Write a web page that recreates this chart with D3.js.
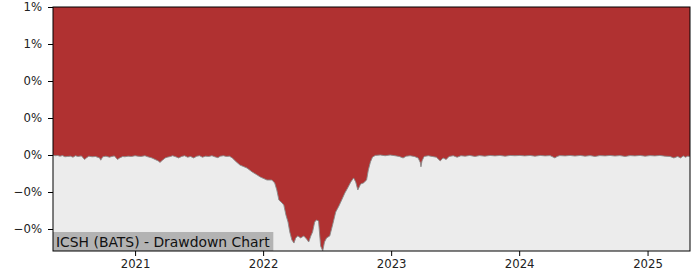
<!DOCTYPE html>
<html>
<head>
<meta charset="utf-8">
<script src="https://cdn.jsdelivr.net/npm/d3@7"></script>
<style>
  html, body { margin: 0; padding: 0; background: #ffffff; }
  svg { display: block; }
  text { font-family: "DejaVu Sans", sans-serif; }
</style>
</head>
<body>
<svg id="chart" width="700" height="280"></svg>
<script>
// ---- data (drawdown, in percent) ----
const dates = [
  "2020-05-12","2020-05-18","2020-05-25","2020-06-01","2020-06-08","2020-06-15","2020-06-22","2020-07-01","2020-07-08","2020-07-15","2020-07-22",
  "2020-08-01","2020-08-10","2020-08-15","2020-08-22","2020-09-01","2020-09-10","2020-09-22","2020-09-25","2020-10-01","2020-10-10","2020-10-20",
  "2020-10-27","2020-11-03","2020-11-12","2020-11-18","2020-11-27","2020-12-03","2020-12-12","2020-12-22",
  "2021-01-01","2021-01-09","2021-01-18","2021-01-29","2021-02-06","2021-02-18","2021-02-27","2021-03-08","2021-03-13","2021-03-20","2021-03-28",
  "2021-04-03","2021-04-12","2021-04-18","2021-04-27","2021-05-05","2021-05-14","2021-05-22","2021-05-31","2021-06-08","2021-06-17","2021-06-26",
  "2021-07-04","2021-07-12","2021-07-21","2021-07-30","2021-08-08","2021-08-16","2021-08-25","2021-09-01","2021-09-10","2021-09-18","2021-09-27",
  "2021-10-05","2021-10-16","2021-10-27","2021-11-16","2021-12-01","2021-12-15","2021-12-24",
  "2022-01-12","2022-01-26","2022-02-03","2022-02-09","2022-02-15","2022-02-24","2022-03-01","2022-03-07","2022-03-13","2022-03-18","2022-03-24","2022-03-30",
  "2022-04-04","2022-04-10","2022-04-18","2022-04-27","2022-05-05","2022-05-11","2022-05-17","2022-05-22","2022-05-28","2022-06-02","2022-06-08","2022-06-14",
  "2022-06-20","2022-06-25","2022-07-01","2022-07-10","2022-07-18","2022-07-27","2022-08-05","2022-08-13","2022-08-22","2022-08-30","2022-09-08","2022-09-16",
  "2022-09-22","2022-09-28","2022-10-06","2022-10-14","2022-10-23","2022-10-28","2022-11-03","2022-11-09","2022-11-17","2022-12-01","2022-12-15","2022-12-29",
  "2023-01-12","2023-01-24","2023-02-04","2023-02-13","2023-02-24","2023-03-08","2023-03-19","2023-03-25","2023-03-27","2023-03-30","2023-04-05","2023-04-17",
  "2023-04-28","2023-05-10","2023-05-21","2023-05-29","2023-06-07","2023-06-15","2023-06-27","2023-07-08","2023-07-19","2023-07-31","2023-08-13","2023-08-28",
  "2023-09-10","2023-09-25","2023-10-10","2023-10-24","2023-11-07","2023-11-22","2023-12-06","2023-12-20",
  "2024-01-03","2024-01-17","2024-02-01","2024-02-15","2024-03-01","2024-03-15","2024-03-29","2024-04-12","2024-04-18","2024-04-26","2024-05-11","2024-05-25",
  "2024-06-08","2024-06-23","2024-07-07","2024-07-21","2024-08-04","2024-08-18","2024-09-02","2024-09-16","2024-09-30","2024-10-14","2024-10-29","2024-11-12",
  "2024-11-26","2024-12-11","2024-12-25",
  "2025-01-08","2025-01-22","2025-02-05","2025-02-20","2025-03-06","2025-03-17","2025-03-28","2025-04-05","2025-04-13","2025-04-19","2025-04-25","2025-05-02"
];
const drawdown = [
  0,-0.005,-0.003,-0.008,-0.004,-0.012,-0.01,-0.008,-0.015,-0.005,-0.01,
  -0.006,-0.03,-0.02,-0.008,-0.012,-0.01,-0.02,-0.035,-0.012,-0.008,-0.015,
  -0.01,-0.006,-0.03,-0.02,-0.01,-0.012,-0.008,-0.01,
  -0.005,-0.008,-0.01,-0.005,-0.012,-0.02,-0.03,-0.04,-0.05,-0.035,-0.02,
  -0.015,-0.01,-0.005,-0.012,-0.02,-0.01,-0.005,-0.015,-0.01,-0.02,-0.008,
  -0.005,-0.015,-0.008,-0.01,-0.005,-0.012,-0.018,-0.008,-0.005,-0.01,-0.008,
  -0.02,-0.045,-0.068,-0.088,-0.115,-0.135,-0.149,
  -0.169,-0.169,-0.189,-0.236,-0.304,-0.324,-0.338,-0.405,-0.453,-0.52,-0.574,-0.595,
  -0.56,-0.547,-0.56,-0.547,-0.568,-0.588,-0.547,-0.52,-0.453,-0.439,-0.446,-0.615,
  -0.648,-0.588,-0.56,-0.547,-0.473,-0.385,-0.345,-0.304,-0.257,-0.223,-0.182,-0.155,
  -0.182,-0.236,-0.196,-0.189,-0.169,-0.101,-0.047,-0.014,-0.003,0,-0.005,0,
  -0.005,-0.01,-0.02,-0.008,-0.005,-0.01,-0.02,-0.05,-0.08,-0.04,-0.01,-0.005,
  -0.01,-0.015,-0.04,-0.02,-0.03,-0.01,-0.005,-0.015,-0.005,-0.008,-0.003,-0.01,
  -0.004,-0.008,-0.003,-0.006,-0.003,-0.008,-0.003,-0.005,
  -0.003,-0.006,-0.003,-0.008,-0.003,-0.006,-0.004,-0.02,-0.01,-0.004,-0.006,-0.003,
  -0.007,-0.003,-0.008,-0.004,-0.01,-0.004,-0.006,-0.003,-0.007,-0.004,-0.01,-0.004,
  -0.006,-0.003,-0.008,
  -0.004,-0.006,-0.003,-0.008,-0.01,-0.02,-0.01,-0.02,-0.006,-0.015,-0.008,-0.01
];
const yTickValues = [-0.5, -0.25, 0, 0.25, 0.5, 0.75, 1.0];
const yTickLabels = ["\u22120%", "\u22120%", "0%", "0%", "0%", "1%", "1%"];
const xTickDates = ["2021-01-01","2022-01-01","2023-01-01","2024-01-01","2025-01-01"];
const xTickLabels = ["2021","2022","2023","2024","2025"];
const chartTitle = "ICSH (BATS) - Drawdown Chart";

// ---- layout ----
const W = 700, H = 280;
const margin = { top: 7, right: 10, bottom: 29, left: 53 };
const pw = W - margin.left - margin.right;
const ph = H - margin.top - margin.bottom;

const parse = d3.timeParse("%Y-%m-%d");
const data = dates.map((d, i) => ({ date: parse(d), v: drawdown[i] }));

const x = d3.scaleTime()
  .domain([parse("2020-05-12"), parse("2025-05-02")])
  .range([0, pw]);
const y = d3.scaleLinear()
  .domain([-0.6486, 1.0])
  .range([ph, 0]);

const svg = d3.select("#chart");
const g = svg.append("g").attr("transform", `translate(${margin.left},${margin.top})`);

g.append("rect").attr("width", pw).attr("height", ph).attr("fill", "#ececec");

const area = d3.area()
  .x(d => x(d.date))
  .y0(y(1.0))
  .y1(d => y(d.v));
g.append("path").datum(data).attr("d", area).attr("fill", "#b03131");

const line = d3.line().x(d => x(d.date)).y(d => y(d.v));
g.append("path").datum(data).attr("d", line)
  .attr("fill", "none").attr("stroke", "#8a8a8a").attr("stroke-width", 1).attr("opacity", 0.9);

// title box
const tg = g.append("g");
const tt = tg.append("text").attr("x", 3).attr("y", ph - 4.5)
  .attr("font-size", "13.9px").attr("fill", "#111").text(chartTitle);
const bb = tt.node().getBBox();
tg.insert("rect", "text").attr("x", 0).attr("y", ph - 19).attr("width", bb.width + 6).attr("height", 19)
  .attr("fill", "#b3b3b3");

// axes
const yAxis = d3.axisLeft(y).tickValues(yTickValues)
  .tickFormat((d, i) => yTickLabels[i]).tickSize(5).tickPadding(6);
const ya = g.append("g").call(yAxis);
const xAxis = d3.axisBottom(x).tickValues(xTickDates.map(parse))
  .tickFormat((d, i) => xTickLabels[i]).tickSize(5).tickPadding(4);
const xa = g.append("g").attr("transform", `translate(0,${ph})`).call(xAxis);
[ya, xa].forEach(a => {
  a.select(".domain").remove();
  a.selectAll("text").attr("font-family", "DejaVu Sans, sans-serif").attr("font-size", "11.7px").attr("fill", "#222");
  a.selectAll("line").attr("stroke", "#000");
});

g.append("rect").attr("width", pw).attr("height", ph)
  .attr("fill", "none").attr("stroke", "#000").attr("stroke-width", 1);
</script>
</body>
</html>
